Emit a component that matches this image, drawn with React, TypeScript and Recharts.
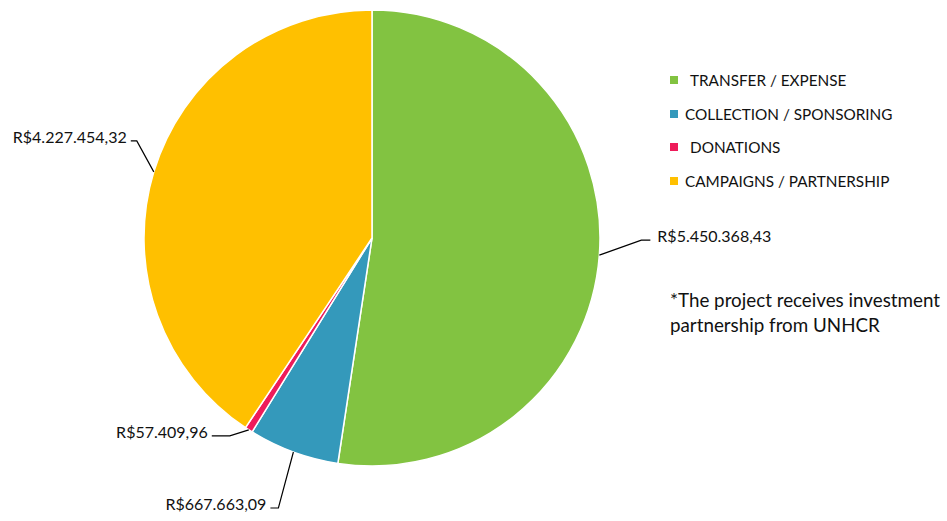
import React from 'react';
import { PieChart, Pie, Cell } from 'recharts';

// slice data, in drawing order (clockwise from 12 o'clock)
const categories = ['TRANSFER / EXPENSE', 'COLLECTION / SPONSORING', 'DONATIONS', 'CAMPAIGNS / PARTNERSHIP'];
const amounts = [5450368.43, 667663.09, 57409.96, 4227454.32];
const amountLabels = ['R$5.450.368,43', 'R$667.663,09', 'R$57.409,96', 'R$4.227.454,32'];
const colors = ['#82C341', '#3499BB', '#EE1B5A', '#FFC000'];
const note = ['*The project receives investment', 'partnership from UNHCR'];

// leader line elbows: [dx, dy] from slice edge, then horizontal run
const elbows: [number, number, number][] = [
  [42, -15, 9],
  [-15, 56, -8],
  [-19, 6, -18],
  [-17, -31, -6],
];

const FONT = 'Lato, "Open Sans", sans-serif';
const RAD = Math.PI / 180;

const data = categories.map((name, i) => ({ name, value: amounts[i], label: amountLabels[i] }));

const renderLabel = (props: any) => {
  const { cx, cy, midAngle, outerRadius, index } = props;
  const x0 = cx + outerRadius * Math.cos(-midAngle * RAD);
  const y0 = cy + outerRadius * Math.sin(-midAngle * RAD);
  const [dx, dy, run] = elbows[index];
  const x1 = x0 + dx;
  const y1 = y0 + dy;
  const x2 = x1 + run;
  const right = run > 0;
  return (
    <g key={`lbl-${index}`}>
      <polyline points={`${x0},${y0} ${x1},${y1} ${x2},${y1}`} fill="none" stroke="#000" strokeWidth={1.2} />
      <text
        x={x2 + (right ? 7 : -4)}
        y={y1}
        dy={-2}
        textAnchor={right ? 'start' : 'end'}
        dominantBaseline="middle"
        fontFamily={FONT}
        fontSize={16}
        fill="#111"
      >
        {data[index].label}
      </text>
    </g>
  );
};

export default function App() {
  return (
    <div style={{ position: 'absolute', left: 0, top: 0, width: 947, height: 521, background: '#fff', fontFamily: FONT }}>
      <PieChart width={947} height={521} margin={{ top: 0, right: 0, bottom: 0, left: 0 }}>
        <Pie
          data={data}
          dataKey="value"
          nameKey="name"
          cx={372}
          cy={238}
          outerRadius={228}
          startAngle={90}
          endAngle={-270}
          stroke="#fff"
          strokeWidth={1.5}
          label={renderLabel}
          labelLine={false}
          isAnimationActive={false}
        >
          {data.map((d, i) => (
            <Cell key={d.name} fill={colors[i]} />
          ))}
        </Pie>
      </PieChart>
      <div style={{ position: 'absolute', left: 670, top: 63 }}>
        {categories.map((c, i) => (
          <div key={c} style={{ display: 'flex', alignItems: 'center', height: 33.7, fontSize: 15.3, color: '#111' }}>
            <span style={{ width: 8, height: 8, background: colors[i], display: 'inline-block', marginRight: i === 0 || i === 2 ? 12 : 7 }} />
            {c}
          </div>
        ))}
      </div>
      <div style={{ position: 'absolute', left: 670, top: 287, fontSize: 18.8, lineHeight: '25px', color: '#111' }}>
        {note.map((t) => (
          <div key={t}>{t}</div>
        ))}
      </div>
    </div>
  );
}
